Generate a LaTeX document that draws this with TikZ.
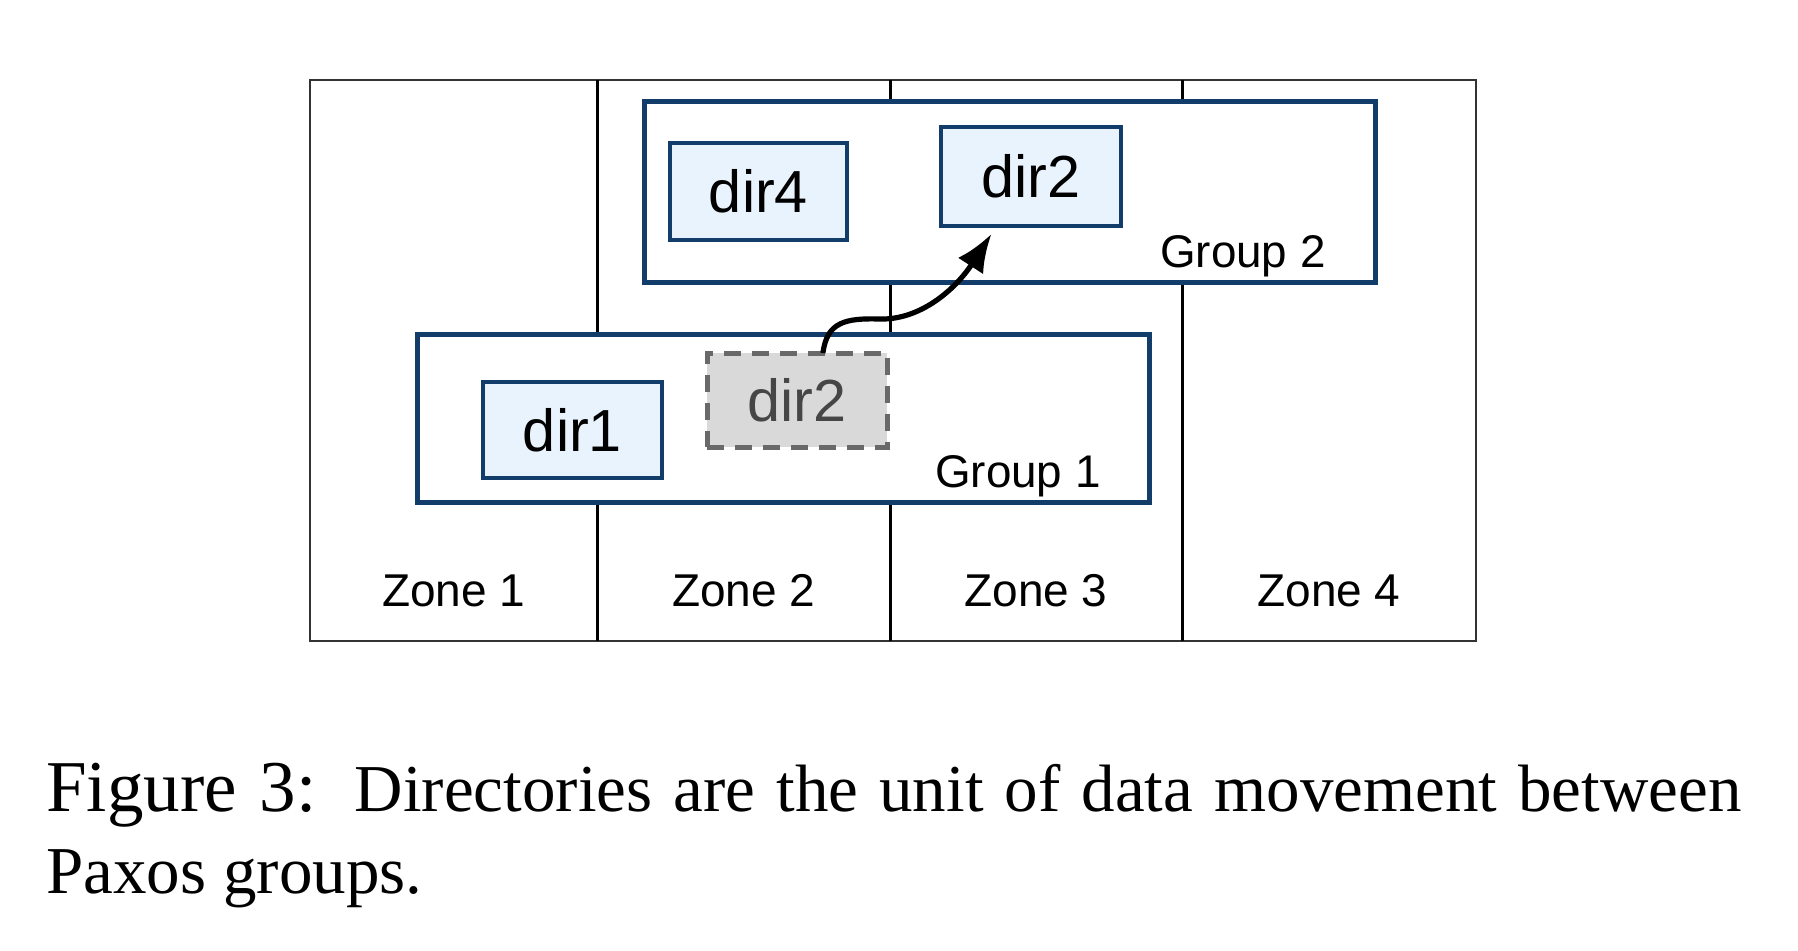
\documentclass[tikz,border=0pt]{standalone}
\usepackage{fontspec}
\setmainfont{Liberation Serif}
\newfontfamily\arialfont{Liberation Sans}
\usetikzlibrary{arrows.meta,calc}
\definecolor{groupblue}{RGB}{18,61,107}
\definecolor{dirfill}{RGB}{233,243,253}
\definecolor{dashfill}{RGB}{217,217,217}
\definecolor{dashdraw}{RGB}{105,105,105}
\definecolor{dashtext}{RGB}{70,70,70}
\begin{document}
\begin{tikzpicture}[x=0.5pt,y=-0.5pt,
  framebox/.style={draw=black!80,line width=1pt,minimum width=583pt,minimum height=280.5pt,inner sep=0pt,outer sep=0pt},
  zoneline/.style={draw=black,line width=1.5pt},
  groupbox/.style={draw=groupblue,fill=white,line width=2.5pt,inner sep=0pt,outer sep=0pt},
  dirbox/.style={draw=groupblue,fill=dirfill,line width=1.7pt,inner sep=0pt,outer sep=0pt,
    font=\arialfont\fontsize{29.7}{32}\selectfont},
  oldbox/.style={draw=dashdraw,fill=dashfill,line width=2.5pt,dash pattern=on 8.5pt off 5.5pt,
    inner sep=0pt,outer sep=0pt,text=dashtext,font=\arialfont\fontsize{29.7}{32}\selectfont},
  grouplabel/.style={inner sep=0pt,anchor=base east,font=\arialfont\fontsize{22.9}{26}\selectfont},
  zonelabel/.style={inner sep=0pt,anchor=base,font=\arialfont\fontsize{23}{26}\selectfont},
  captext/.style={inner sep=0pt,anchor=base west,font=\fontsize{33.5}{41}\selectfont},
  movearrow/.style={draw=black,line width=2.6pt,-{Latex[length=19pt,width=15pt]}}
]
\useasboundingbox (0,0) rectangle (1798,950);

% frame and zones
\node[framebox] (frame) at (893,360.5) {};
\coordinate (zA) at (597.5,360.5);
\coordinate (zB) at (890,360.5);
\coordinate (zC) at (1182,360.5);
\draw[zoneline] (frame.north -| zA) -- (frame.south -| zA);
\draw[zoneline] (frame.north -| zB) -- (frame.south -| zB);
\draw[zoneline] (frame.north -| zC) -- (frame.south -| zC);

\node[zonelabel] (zone1) at (453.75,606) {Zone 1};
\node[zonelabel] (zone2) at (743.75,606) {Zone 2};
\node[zonelabel] (zone3) at (1036,606) {Zone 3};
\node[zonelabel] (zone4) at (1329,606) {Zone 4};

% groups
\node[groupbox,minimum width=365.5pt,minimum height=90.5pt] (group2) at (1009.5,191.5) {};
\node[groupbox,minimum width=366pt,minimum height=84pt] (group1) at (783,418) {};
\node[grouplabel] (g2label) at (1326,267) {Group 2};
\node[grouplabel] (g1label) at (1101,487) {Group 1};

% directories
\node[dirbox,minimum width=88.5pt,minimum height=48.5pt] (dir4) at (758.5,191.5) {dir4};
\node[dirbox,minimum width=90pt,minimum height=49.5pt] (dir2new) at (1031,176.5) {dir2};
\node[dirbox,minimum width=89.5pt,minimum height=48pt] (dir1) at (572.5,430) {dir1};
\node[oldbox,minimum width=90pt,minimum height=47pt] (dir2old) at (797,400) {dir2};

% movement arrow
\coordinate (astart) at ($(dir2old.north west)!0.644!(dir2old.north east)$);
\coordinate (aend) at ($(dir2new.south west)!0.28!(dir2new.south east)+(0,8)$);
\draw[movearrow] (astart) .. controls (827,322) and (845,318) .. (880,319)
  .. controls (920,320) and (955,290) .. (aend);

% caption
\node[captext] (cap1) at (46,811) {\makebox[847.5pt][s]{{\fontsize{36.5}{41}\selectfont Figure 3:}\hspace{19pt}Directories are the unit of data movement between}};
\node[captext] (cap2) at (46,893) {Paxos groups.};
\end{tikzpicture}
\end{document}
